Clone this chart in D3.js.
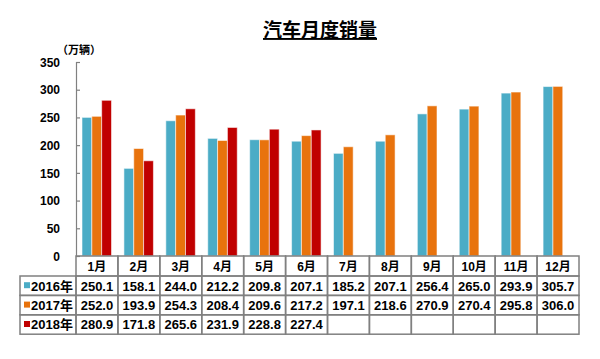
<!DOCTYPE html>
<html><head><meta charset="utf-8">
<script src="https://cdn.jsdelivr.net/npm/d3@7"></script>
<style>
body{margin:0;background:#fff;}
text{font-family:"Liberation Sans","Noto Sans CJK SC",Arial,sans-serif;font-weight:bold;fill:#000;}
</style></head>
<body><svg id="c" width="600" height="359"></svg>
<script>
const months = ["1月","2月","3月","4月","5月","6月","7月","8月","9月","10月","11月","12月"];
const seriesNames = ["2016年","2017年","2018年"];
const s2016 = [250.1,158.1,244.0,212.2,209.8,207.1,185.2,207.1,256.4,265.0,293.9,305.7];
const s2017 = [252.0,193.9,254.3,208.4,209.6,217.2,197.1,218.6,270.9,270.4,295.8,306.0];
const s2018 = [280.9,171.8,265.6,231.9,228.8,227.4,null,null,null,null,null,null];
const yTicks = [0,50,100,150,200,250,300,350];
const colors = ["#4BACC6","#E8730D","#C00000"];
const title = "汽车月度销量";
const unit = "（万辆）";

const seriesData = [s2016, s2017, s2018];
const svg = d3.select("#c");
const pLeft = 76, pRight = 579, pTop = 62, pBottom = 256;

const x = d3.scaleBand().domain(months).range([pLeft, pRight]);
const xi = d3.scaleBand().domain(seriesNames).range([6, 35.5]);
const y = d3.scaleLinear().domain([0,350]).range([pBottom, pTop]);

// title
svg.append("text").attr("x",320).attr("y",37).attr("text-anchor","middle")
  .style("font-size","19px").style("font-family","'Noto Sans CJK SC',sans-serif").style("font-weight","bold")
  .style("text-decoration","underline").text(title);
svg.append("text").attr("x",57).attr("y",54).style("font-size","11px")
  .style("font-family","'Noto Sans CJK SC',sans-serif").text(unit);

// y axis
const yAxis = d3.axisRight(y).tickValues(yTicks).tickSize(4).tickFormat(d3.format("d"));
const ga = svg.append("g").attr("transform",`translate(${pLeft},0)`).call(yAxis);
ga.select(".domain").attr("stroke","#808080").attr("stroke-width",1.2);
ga.selectAll(".tick line").attr("stroke","#808080").attr("stroke-width",1.2);
ga.selectAll(".tick text").attr("x",-16).attr("text-anchor","end").attr("dy","0.35em")
  .style("font-size","12px").style("font-family","'Liberation Sans',Arial,sans-serif").style("font-weight","bold");

// bars
seriesData.forEach((vals,si)=>{
  svg.append("g").selectAll("rect").data(months.map((m,i)=>({m,v:vals[i]})).filter(d=>d.v!=null))
    .join("rect")
    .attr("x",d=>x(d.m)+xi(seriesNames[si]))
    .attr("width",xi.bandwidth())
    .attr("y",d=>y(d.v))
    .attr("height",d=>y(0)-y(d.v))
    .attr("fill",colors[si])
    .attr("stroke","rgba(255,255,255,0.55)").attr("stroke-width",1);
});

// table
const rowH = 19.4;
const tableLeft = 20;
const rowsTop = pBottom + 20;
const line = "#808080";
const tg = svg.append("g");
tg.selectAll(".hcell").data(months).join("rect")
  .attr("x",d=>x(d)).attr("y",pBottom).attr("width",x.bandwidth()).attr("height",20)
  .attr("fill","none").attr("stroke",line).attr("stroke-width",1.5);
tg.selectAll(".htext").data(months).join("text")
  .attr("x",d=>x(d)+x.bandwidth()/2).attr("y",pBottom+14.5).attr("text-anchor","middle")
  .style("font-size","12px").text(d=>d);
seriesData.forEach((vals,si)=>{
  const ry = rowsTop + si*rowH;
  tg.append("rect").attr("x",tableLeft).attr("y",ry).attr("width",pLeft-tableLeft).attr("height",rowH)
    .attr("fill","none").attr("stroke",line).attr("stroke-width",1.5);
  tg.append("rect").attr("x",tableLeft+4).attr("y",ry+rowH/2-3.5).attr("width",6).attr("height",6).attr("fill",colors[si]);
  tg.append("text").attr("x",tableLeft+11).attr("y",ry+14.5).style("font-size","13px").text(seriesNames[si]);
  const g = tg.append("g");
  g.selectAll("rect").data(months).join("rect")
    .attr("x",d=>x(d)).attr("y",ry).attr("width",x.bandwidth()).attr("height",rowH)
    .attr("fill","none").attr("stroke",line).attr("stroke-width",1.5);
  g.selectAll("text").data(months.map((m,i)=>({m,v:vals[i]})).filter(d=>d.v!=null)).join("text")
    .attr("x",d=>x(d.m)+x.bandwidth()/2).attr("y",ry+14.5).attr("text-anchor","middle")
    .style("font-size","13px").text(d=>d.v.toFixed(1));
});
</script></body></html>
